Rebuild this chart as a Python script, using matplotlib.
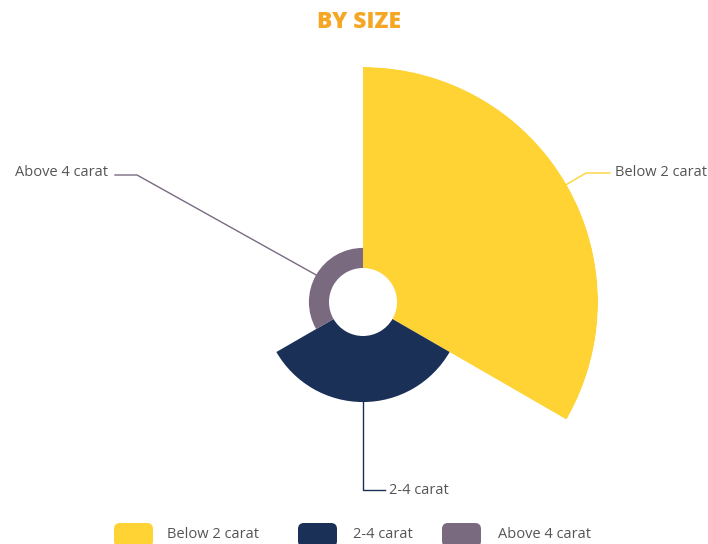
import numpy as np
import matplotlib.pyplot as plt
from matplotlib.patches import FancyBboxPatch

plt.rcParams['font.family'] = ['Open Sans', 'DejaVu Sans']

# data
categories = ['Below 2 carat', '2-4 carat', 'Above 4 carat']
values = [70, 23, 7]
colors = ['#FED333', '#1B3056', '#7A6A80']

W, H = 708, 544
cx, cy = 363, 302
r_outer, r_inner = 235, 34

fig = plt.figure(figsize=(W / 100, H / 100), dpi=100)

# rose chart (equal angles, radius by value)
ax = fig.add_axes([(cx - r_outer) / W, (H - cy - r_outer) / H,
                   2 * r_outer / W, 2 * r_outer / H], projection='polar')
ax.set_theta_zero_location('N')
ax.set_theta_direction(-1)
n = len(values)
width = 2 * np.pi / n
starts = np.arange(n) * width
vmax = max(values)
radii = [r_inner + (r_outer - r_inner) * v / vmax for v in values]
ax.bar(starts, [r - r_inner for r in radii], width=width, bottom=r_inner,
       align='edge', color=colors, edgecolor='none', linewidth=0)
ax.set_ylim(0, r_outer)
ax.set_axis_off()

# overlay in pixel coords for labels / legend
ov = fig.add_axes([0, 0, 1, 1])
ov.set_xlim(0, W)
ov.set_ylim(H, 0)
ov.set_axis_off()

ov.text(359, 22, 'BY SIZE', ha='center', va='center', fontsize=16.5,
        fontweight='heavy', color='#F5A623')

# label lines: start at outer edge of each sector's mid angle
label_pts = [
    [(586, 173), (610, 173), (615, 173, 'left')],
    [(363, 490), (385, 490), (389, 490, 'left')],
    [(137, 175), (115, 175), (108, 173, 'right')],
]
for i, cat in enumerate(categories):
    mid = starts[i] + width / 2
    x0 = cx + radii[i] * np.sin(mid)
    y0 = cy - radii[i] * np.cos(mid)
    (x1, y1), (x2, y2), (tx, ty, ha) = label_pts[i]
    ov.plot([x0, x1, x2], [y0, y1, y2], color=colors[i], lw=1)
    ov.text(tx, ty, cat, ha=ha, va='center', fontsize=10.5, color='#555555')

# legend
leg_x = [114, 298, 442]
leg_tx = [167, 353, 498]
for i, cat in enumerate(categories):
    box = FancyBboxPatch((leg_x[i], 523), 39, 24,
                         boxstyle='round,pad=0,rounding_size=6',
                         fc=colors[i], ec='none')
    ov.add_patch(box)
    ov.text(leg_tx[i], 534, cat, ha='left', va='center',
            fontsize=10.5, color='#555555')

fig.savefig('out.png', dpi=100)
